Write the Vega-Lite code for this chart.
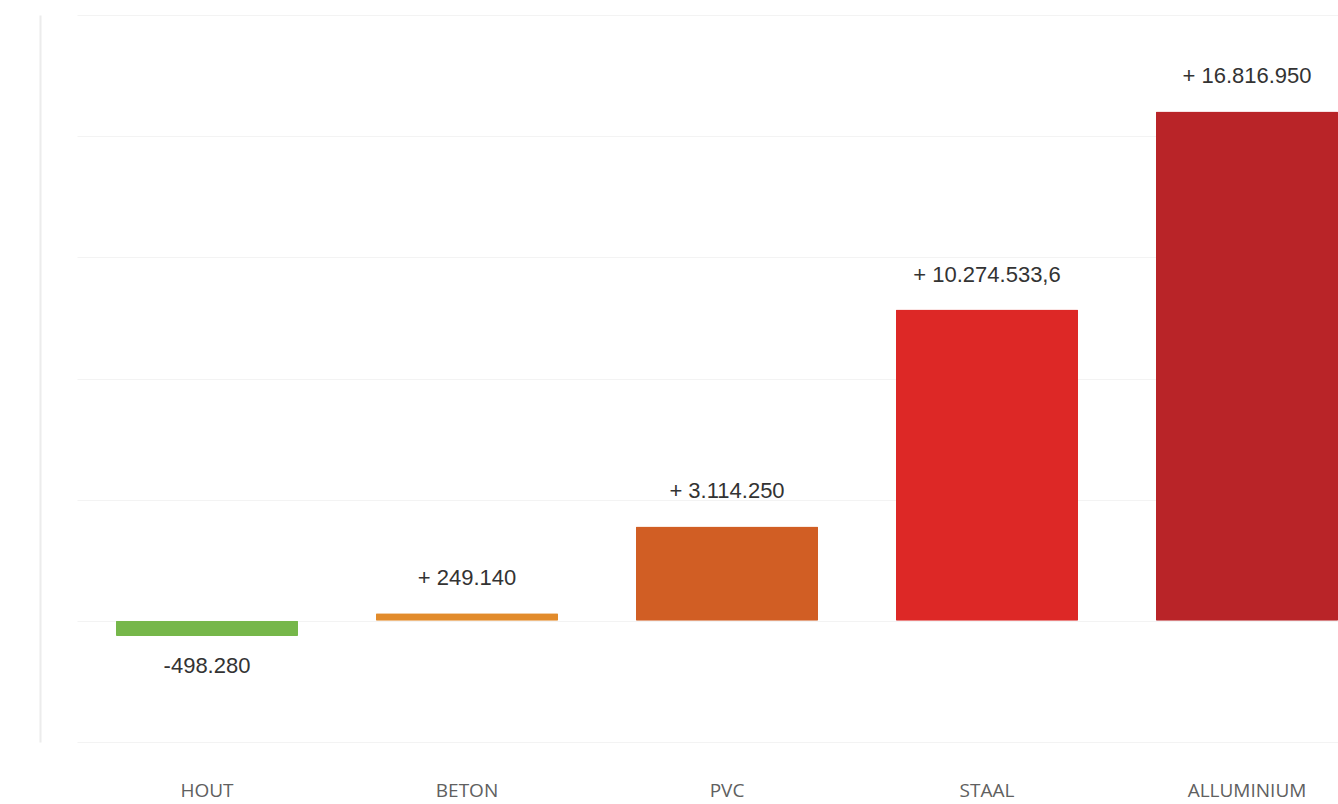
{
  "$schema": "https://vega.github.io/schema/vega-lite/v6.json",
  "autosize": {"type": "none"},
  "padding": {"left": 77, "top": 15, "right": 0, "bottom": 62},
  "width": 1300,
  "height": 727,
  "background": "white",
  "config": {"view": {"stroke": null}},
  "data": {
    "values": [
      {"materiaal": "HOUT", "waarde": -498280, "label": "-498.280", "kleur": "#76b74a"},
      {"materiaal": "BETON", "waarde": 249140, "label": "+ 249.140", "kleur": "#e28b2b"},
      {"materiaal": "PVC", "waarde": 3114250, "label": "+ 3.114.250", "kleur": "#d15e24"},
      {"materiaal": "STAAL", "waarde": 10274533.6, "label": "+ 10.274.533,6", "kleur": "#dd2826"},
      {"materiaal": "ALLUMINIUM", "waarde": 16816950, "label": "+ 16.816.950", "kleur": "#b92428"}
    ]
  },
  "encoding": {
    "x": {
      "field": "materiaal",
      "type": "nominal",
      "sort": null,
      "scale": {"paddingInner": 0.3, "paddingOuter": 0.15},
      "axis": {
        "title": null,
        "domain": false,
        "ticks": false,
        "labelAngle": 0,
        "labelPadding": 39,
        "labelFont": "Open Sans",
        "labelFontSize": 19,
        "labelColor": "#606060"
      }
    }
  },
  "layer": [
    {
      "mark": {"type": "bar", "cornerRadius": 1},
      "encoding": {
        "y": {
          "field": "waarde",
          "type": "quantitative",
          "scale": {"domain": [-4000000, 20000000], "nice": false},
          "axis": {
            "title": null,
            "values": [-4000000, 0, 4000000, 8000000, 12000000, 16000000, 20000000],
            "labels": false,
            "ticks": false,
            "domain": true,
            "domainColor": "#ececec",
            "domainWidth": 2,
            "offset": 37,
            "grid": true,
            "gridColor": "#f3f3f3",
            "gridWidth": 1
          }
        },
        "color": {"field": "kleur", "type": "nominal", "scale": null, "legend": null}
      }
    },
    {
      "transform": [{"filter": "datum.waarde >= 0"}],
      "mark": {"type": "text", "baseline": "bottom", "dy": -23, "font": "Liberation Sans", "fontSize": 22, "color": "#333333"},
      "encoding": {
        "y": {"field": "waarde", "type": "quantitative"},
        "text": {"field": "label"}
      }
    },
    {
      "transform": [{"filter": "datum.waarde < 0"}],
      "mark": {"type": "text", "baseline": "top", "dy": 20, "font": "Liberation Sans", "fontSize": 22, "color": "#333333"},
      "encoding": {
        "y": {"field": "waarde", "type": "quantitative"},
        "text": {"field": "label"}
      }
    }
  ]
}
